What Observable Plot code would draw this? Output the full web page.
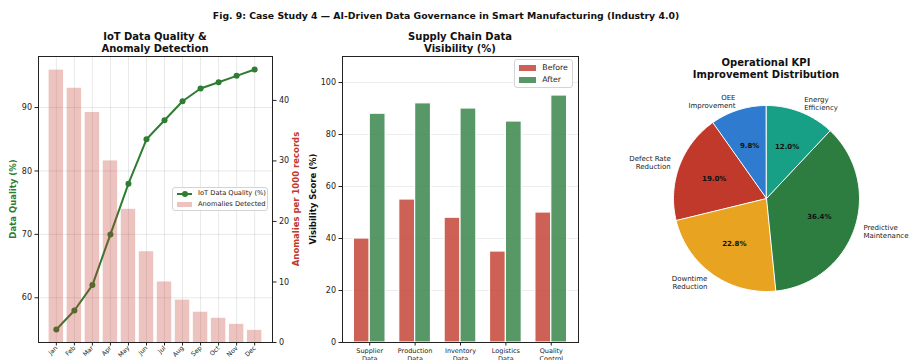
<!DOCTYPE html>
<html>
<head>
<meta charset="utf-8">
<script src="https://cdn.jsdelivr.net/npm/d3@7"></script>
<script src="https://cdn.jsdelivr.net/npm/@observablehq/plot@0.6"></script>
<style>
  body { margin: 0; background: #fff; font-family: "DejaVu Sans", sans-serif; }
  #fig { position: relative; width: 909px; height: 360px; overflow: hidden; background: #fff; }
  #fig svg { position: absolute; overflow: visible; }
  .t { position: absolute; white-space: nowrap; transform: translate(-50%, -50%); text-align: center; }
  .bold { font-weight: bold; }
  .legend { position: absolute; background: rgba(255,255,255,0.85); border: 1px solid #d4d4d4; border-radius: 3px; box-sizing: border-box; color: #222; }
  .row { position: absolute; left: 0; white-space: nowrap; }
</style>
</head>
<body>
<div id="fig"></div>
<script>
// ---- data ----
const months = ["Jan","Feb","Mar","Apr","May","Jun","Jul","Aug","Sep","Oct","Nov","Dec"];
const qualityPct = [55, 58, 62, 70, 78, 85, 88, 91, 93, 94, 95, 96];
const anomaliesPer1000 = [45, 42, 38, 30, 22, 15, 10, 7, 5, 4, 3, 2];

const chainCategories = ["Supplier\nData", "Production\nData", "Inventory\nData", "Logistics\nData", "Quality\nControl"];
const visibilityBefore = [40, 55, 48, 35, 50];
const visibilityAfter = [88, 92, 90, 85, 95];

const kpiLabels = ["OEE\nImprovement", "Defect Rate\nReduction", "Downtime\nReduction", "Predictive\nMaintenance", "Energy\nEfficiency"];
const kpiShares = [9.8, 19.0, 22.8, 36.4, 12.0];
const kpiColors = ["#2f7bcf", "#c0392b", "#e8a321", "#2e7d40", "#17a085"];

const qualityTicks = [60, 70, 80, 90];
const anomalyTicks = [0, 10, 20, 30, 40];
const visibilityTicks = [0, 20, 40, 60, 80, 100];

// ---- helpers ----
const fig = document.getElementById("fig");
function put(node, left, top) {
  node.style.left = left + "px";
  node.style.top = top + "px";
  fig.appendChild(node);
  return node;
}
function text(str, cx, cy, style = {}) {
  const d = document.createElement("div");
  d.className = "t";
  d.textContent = str;
  Object.assign(d.style, style);
  return put(d, cx, cy);
}
function vtext(str, cx, cy, style = {}) {
  const d = text(str, cx, cy, style);
  d.style.transform = "translate(-50%, -50%) rotate(-90deg)";
  return d;
}
const baseStyle = {fontFamily: "DejaVu Sans", fontSize: "8px", color: "#222", background: "transparent", overflow: "visible"};

// ---- titles ----
text("Fig. 9: Case Study 4 \u2014 AI-Driven Data Governance in Smart Manufacturing (Industry 4.0)", 446, 15,
  {fontWeight: "bold", fontSize: "9.3px", color: "#111"});
text("IoT Data Quality &", 155, 36, {fontWeight: "bold", fontSize: "10px", color: "#111"});
text("Anomaly Detection", 155, 47.7, {fontWeight: "bold", fontSize: "10px", color: "#111"});
text("Supply Chain Data", 460, 36, {fontWeight: "bold", fontSize: "10px", color: "#111"});
text("Visibility (%)", 460, 47.7, {fontWeight: "bold", fontSize: "10px", color: "#111"});
text("Operational KPI", 766, 62.3, {fontWeight: "bold", fontSize: "10px", color: "#111"});
text("Improvement Distribution", 766, 73.5, {fontWeight: "bold", fontSize: "10px", color: "#111"});

// ---- panel 1: IoT data quality (left axis) + anomalies (right axis) ----
const monthIdx = d3.range(months.length);
const qualityRows = monthIdx.map(i => ({i, value: qualityPct[i]}));
const anomalyRows = monthIdx.map(i => ({i, value: anomaliesPer1000[i]}));

const leftFrame = {
  width: 320, height: 360,
  marginLeft: 38, marginRight: 48, marginTop: 56, marginBottom: 18,
  x: {domain: [-0.99, 11.99]},
  style: baseStyle
};

const qualityPlot = Plot.plot({
  ...leftFrame,
  y: {domain: [52.95, 98.05]},
  marks: [
    Plot.gridX(monthIdx, {stroke: "#000", strokeOpacity: 0.09}),
    Plot.gridY(qualityTicks, {stroke: "#000", strokeOpacity: 0.09}),
    Plot.axisY(qualityTicks, {tickSize: 3.5, tickPadding: 3, label: null, fontSize: 8}),
    Plot.axisX(monthIdx, {tickFormat: i => months[i], tickRotate: -45, tickSize: 3.5, tickPadding: 1, label: null, fontSize: 6.3}),
    Plot.line(qualityRows, {x: "i", y: "value", stroke: "#2e7d32", strokeWidth: 2}),
    Plot.dot(qualityRows, {x: "i", y: "value", fill: "#2e7d32", r: 3})
  ]
});
put(qualityPlot, 0, 0);

const anomalyPlot = Plot.plot({
  ...leftFrame,
  x: {...leftFrame.x, axis: null},
  y: {domain: [0, 47.25]},
  marks: [
    Plot.rectY(anomalyRows, {x1: d => d.i - 0.4, x2: d => d.i + 0.4, y: "value", fill: "#c0392b", fillOpacity: 0.3}),
    Plot.axisY(anomalyTicks, {anchor: "right", tickSize: 3.5, tickPadding: 3, label: null, fontSize: 8}),
    Plot.frame({stroke: "#222", strokeWidth: 1})
  ]
});
put(anomalyPlot, 0, 0);

vtext("Data Quality (%)", 12.7, 199, {fontWeight: "bold", fontSize: "8.5px", color: "#2e7d32"});
vtext("Anomalies per 1000 records", 296, 199, {fontWeight: "bold", fontSize: "8.5px", color: "#c0392b"});

// legend for panel 1
{
  const lg = document.createElement("div");
  lg.className = "legend";
  Object.assign(lg.style, {width: "96px", height: "24px", fontSize: "6.7px"});
  lg.innerHTML =
    '<div class="row" style="top:2px;left:4px;width:15px;height:7px;">' +
      '<div style="position:absolute;top:3px;left:0;width:15px;height:2px;background:#2e7d32"></div>' +
      '<div style="position:absolute;top:1px;left:5px;width:6px;height:6px;border-radius:50%;background:#2e7d32"></div></div>' +
    '<div class="row" style="top:1px;left:25px;">IoT Data Quality (%)</div>' +
    '<div class="row" style="top:14px;left:4px;width:15px;height:5px;background:rgba(192,57,43,0.3)"></div>' +
    '<div class="row" style="top:12.5px;left:25px;">Anomalies Detected</div>';
  put(lg, 172, 186.5);
}

// ---- panel 2: supply chain visibility ----
const catIdx = d3.range(chainCategories.length);
const beforeRows = catIdx.map(i => ({i, value: visibilityBefore[i]}));
const afterRows = catIdx.map(i => ({i, value: visibilityAfter[i]}));

const visibilityPlot = Plot.plot({
  width: 300, height: 360,
  marginLeft: 42, marginRight: 22, marginTop: 56, marginBottom: 18,
  x: {domain: [-0.6, 4.6]},
  y: {domain: [0, 110]},
  style: baseStyle,
  marks: [
    Plot.gridY(visibilityTicks.slice(1), {stroke: "#000", strokeOpacity: 0.07}),
    Plot.rectY(beforeRows, {x1: d => d.i - 0.35, x2: d => d.i, y: "value", fill: "#c0392b", fillOpacity: 0.8, stroke: "#fff", strokeWidth: 1.2}),
    Plot.rectY(afterRows, {x1: d => d.i, x2: d => d.i + 0.35, y: "value", fill: "#2e7d40", fillOpacity: 0.8, stroke: "#fff", strokeWidth: 1.2}),
    Plot.axisY(visibilityTicks, {tickSize: 3.5, tickPadding: 3, label: null, fontSize: 8}),
    Plot.axisX(catIdx, {tickFormat: i => chainCategories[i], tickSize: 3.5, tickPadding: 2, label: null, fontSize: 6.5, lineHeight: 1.15}),
    Plot.frame({stroke: "#222", strokeWidth: 1})
  ]
});
put(visibilityPlot, 300, 0);

vtext("Visibility Score (%)", 313.3, 199, {fontWeight: "bold", fontSize: "8.5px", color: "#111"});

// legend for panel 2
{
  const lg = document.createElement("div");
  lg.className = "legend";
  Object.assign(lg.style, {width: "59px", height: "29px", fontSize: "7.8px"});
  lg.innerHTML =
    '<div class="row" style="top:5px;left:4px;width:17px;height:6px;background:rgba(192,57,43,0.8)"></div>' +
    '<div class="row" style="top:2.5px;left:27px;">Before</div>' +
    '<div class="row" style="top:17px;left:4px;width:17px;height:6px;background:rgba(46,125,64,0.8)"></div>' +
    '<div class="row" style="top:14.5px;left:27px;">After</div>';
  put(lg, 514.3, 59.3);
}

// ---- panel 3: KPI improvement pie ----
const total = d3.sum(kpiShares);
let acc = 0;
const slices = kpiShares.map((share, k) => {
  const a0 = acc / total * 2 * Math.PI;
  acc += share;
  const a1 = acc / total * 2 * Math.PI;
  const n = Math.max(2, Math.ceil((a1 - a0) / (Math.PI / 180)));
  const ring = [[0, 0]];
  for (let j = 0; j <= n; j++) {
    const a = a0 + (a1 - a0) * j / n;
    ring.push([-Math.sin(a), Math.cos(a)]);
  }
  ring.push([0, 0]);
  const mid = (a0 + a1) / 2;
  return {
    type: "Feature",
    properties: {label: kpiLabels[k], share, color: kpiColors[k], mx: -Math.sin(mid), my: Math.cos(mid)},
    geometry: {type: "Polygon", coordinates: [ring]}
  };
});

const pieDomain = {type: "Polygon", coordinates: [[[-1, -1], [1, -1], [1, 1], [-1, 1], [-1, -1]]]};
const piePlot = Plot.plot({
  width: 309, height: 360,
  marginLeft: 73, marginRight: 50, marginTop: 105, marginBottom: 69,
  projection: {type: "reflect-y", domain: pieDomain, clip: false},
  style: baseStyle,
  marks: [
    Plot.geo(slices, {fill: d => d.properties.color, stroke: "#fff", strokeWidth: 1}),
    Plot.text(slices, {
      x: d => 0.6 * d.properties.mx, y: d => 0.6 * d.properties.my,
      text: d => d.properties.share.toFixed(1) + "%",
      fontSize: 7, fontWeight: "bold", fill: "#111"
    }),
    Plot.text(slices.filter(d => d.properties.mx >= 0), {
      x: d => 1.1 * d.properties.mx, y: d => 1.1 * d.properties.my,
      text: d => d.properties.label, textAnchor: "start", lineAnchor: "middle",
      fontSize: 7, fill: "#222", lineHeight: 1.15
    }),
    Plot.text(slices.filter(d => d.properties.mx < 0), {
      x: d => 1.1 * d.properties.mx, y: d => 1.1 * d.properties.my,
      text: d => d.properties.label, textAnchor: "end", lineAnchor: "middle",
      fontSize: 7, fill: "#222", lineHeight: 1.15
    })
  ]
});
put(piePlot, 600, 0);
</script>
</body>
</html>
